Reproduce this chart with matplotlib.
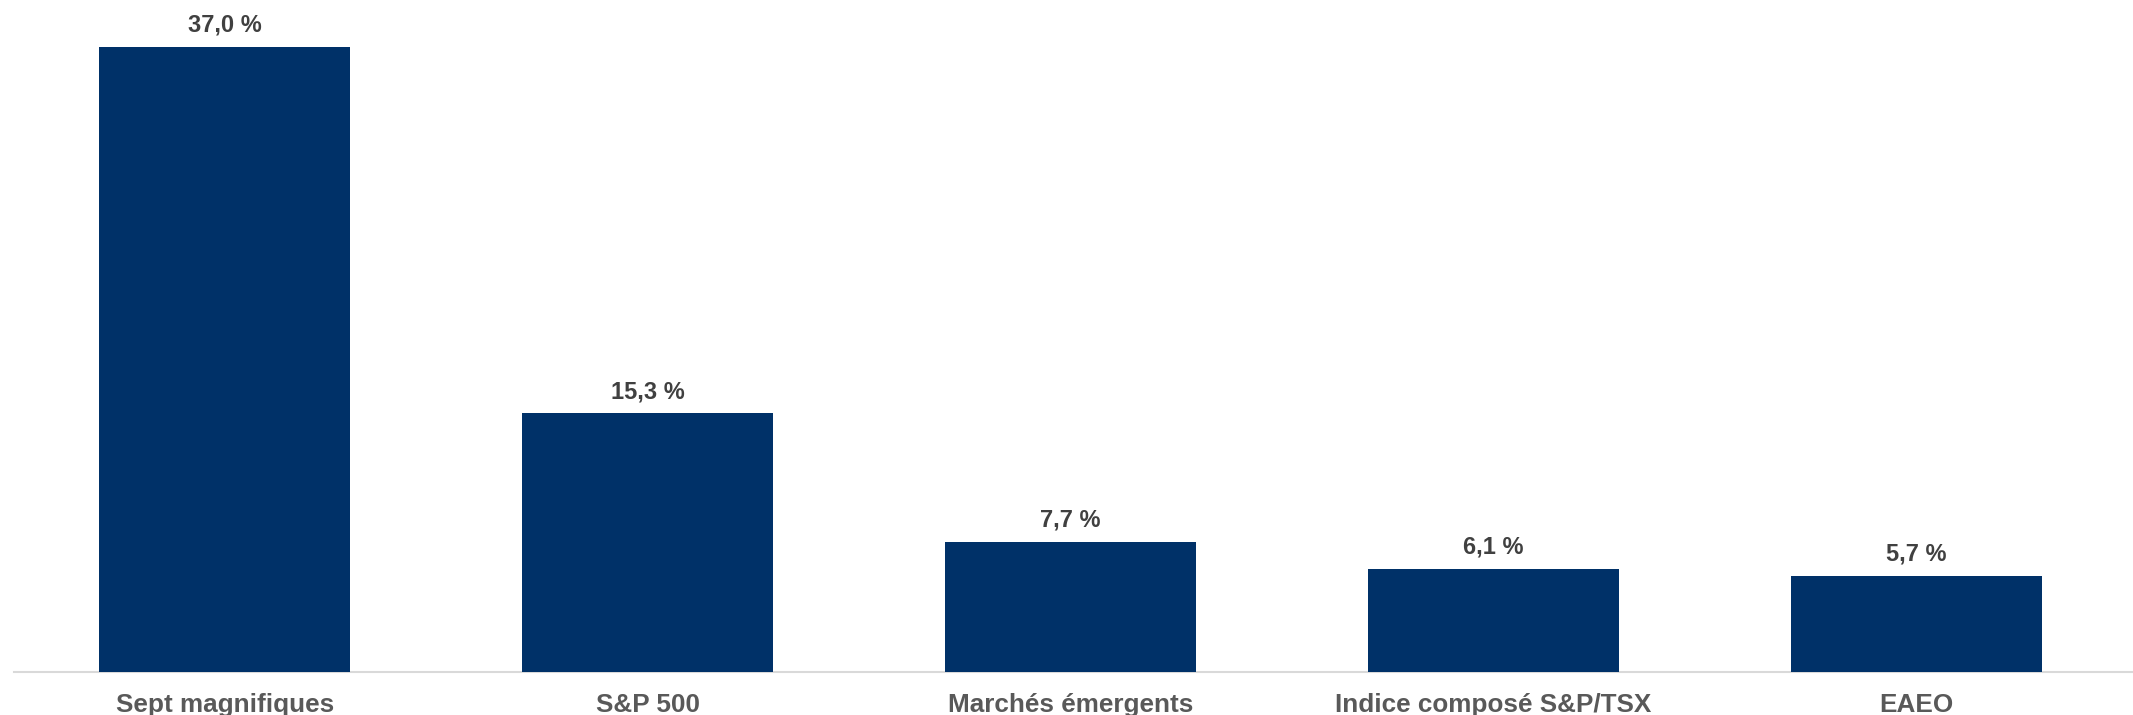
import matplotlib
matplotlib.use("Agg")
import matplotlib.pyplot as plt
import numpy as np

matplotlib.rcParams['font.family'] = ['Liberation Sans', 'DejaVu Sans']

categories = ['Sept magnifiques', 'S&P 500', 'Marchés émergents',
              'Indice composé S&P/TSX', 'EAEO']
values = [37.0, 15.3, 7.7, 6.1, 5.7]
value_labels = ['37,0 %', '15,3 %', '7,7 %', '6,1 %', '5,7 %']

bar_color = '#003168'

fig = plt.figure(figsize=(21.33, 7.15), dpi=100)
# axes de x=14px a droite, axe horizontal a y=672px
ax = fig.add_axes([14 / 2133, 43 / 715, 1 - 14 / 2133, 672 / 715])

x = np.arange(len(categories))
bars = ax.bar(x, values, width=0.593, color=bar_color, zorder=3)

for rect, lab in zip(bars, value_labels):
    ax.annotate(lab, (rect.get_x() + rect.get_width() / 2, rect.get_height()),
                xytext=(0, 11), textcoords='offset points',
                ha='center', va='baseline', fontsize=17,
                fontweight='bold', color='#404040')

ax.set_xlim(-0.498, 4.512)
ax.set_ylim(0, 672 / 16.9)

ax.set_xticks(x)
ax.set_xticklabels(categories, fontsize=18.8, fontweight='bold', color='#595959')
ax.tick_params(axis='x', length=0, pad=15)
ax.set_yticks([])

for side in ['top', 'right', 'left']:
    ax.spines[side].set_visible(False)
ax.spines['bottom'].set_color('#d9d9d9')
ax.spines['bottom'].set_linewidth(1.5)

fig.savefig('out.png', dpi=100)
